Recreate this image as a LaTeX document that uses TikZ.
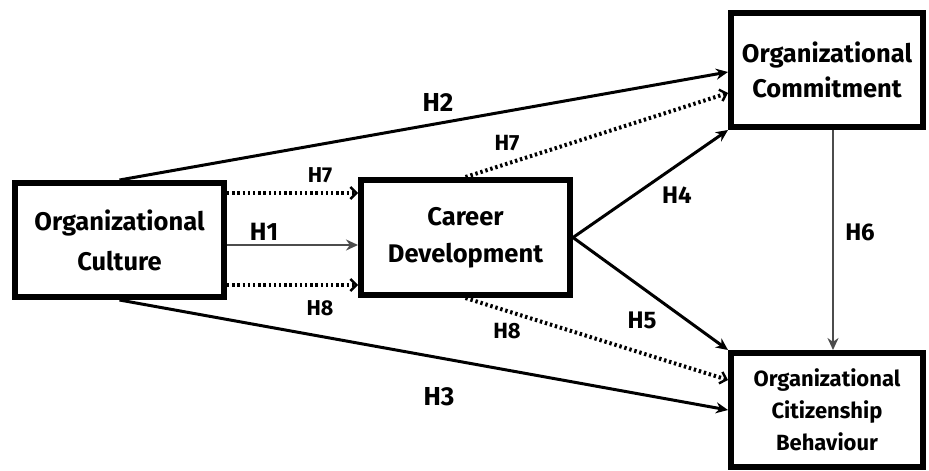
\documentclass[tikz,border=0pt]{standalone}
\usepackage{fontspec}
\setmainfont{Fira Sans}
\usetikzlibrary{arrows.meta}
\tikzset{
  box/.style={draw=black, line width=6pt, fill=white, align=center, inner sep=0pt, font=\bfseries\fontsize{25.5}{40}\selectfont},
  solidarrow/.style={line width=3pt, -{Stealth[length=12pt,width=11pt]}},
  grayarrow/.style={line width=2.6pt, draw=black!70, -{Stealth[length=12pt,width=11pt,fill=black]}},
  dotarrow/.style={line width=4pt, dash pattern=on 2.4pt off 2.8pt, -{Straight Barb[length=6pt,width=12pt,line width=2.4pt]}},
  hlab/.style={font=\bfseries\fontsize{24}{24}\selectfont, inner sep=1pt},
}
\begin{document}
\begin{tikzpicture}[x=1pt,y=-1pt]
\useasboundingbox (0,0) rectangle (929,471);
\node[box, minimum width=209pt, minimum height=114pt] (OC) at (119.5,240) {Organizational\\Culture};
\node[box, minimum width=209pt, minimum height=115pt, font=\bfseries\fontsize{25.5}{37}\selectfont] (CD) at (465.5,237.5) {Career\\Development};
\node[box, minimum width=192pt, minimum height=114pt, font=\bfseries\fontsize{25.5}{35}\selectfont] (OCm) at (827,70) {Organizational\\Commitment};
\node[box, minimum width=192pt, minimum height=114pt, font=\bfseries\fontsize{22}{32}\selectfont] (OCB) at (827,410) {Organizational\\Citizenship\\Behaviour};

\coordinate (l7) at ([yshift=47pt]OC.east);
\coordinate (l1) at ([yshift=-5pt]OC.east);
\coordinate (l8) at ([yshift=-45pt]OC.east);
\coordinate (t2) at ([yshift=-2pt]OCm.west);
\coordinate (t7) at ([yshift=-23pt]OCm.west);
\coordinate (b8) at ([yshift=30pt]OCB.west);

\draw[dotarrow] (l7) -- (l7 -| CD.west);
\draw[grayarrow] (l1) -- (l1 -| CD.west);
\draw[dotarrow] (l8) -- (l8 -| CD.west);

\draw[solidarrow] (OC.north) -- (t2);
\draw[solidarrow] (OC.south) -- (OCB.west);
\draw[dotarrow] (CD.north) -- (t7);
\draw[dotarrow] (CD.south) -- (b8);
\draw[solidarrow] (CD.east) -- (OCm.south west);
\draw[solidarrow] (CD.east) -- (OCB.north west);
\draw[grayarrow] ([xshift=6pt]OCm.south) -- ([xshift=6pt]OCB.north);

\node[hlab, font=\bfseries\fontsize{26}{26}\selectfont] (h2) at (438,102) {H2};
\node[hlab, font=\bfseries\fontsize{22}{22}\selectfont] (h7a) at (507,143) {H7};
\node[hlab, font=\bfseries\fontsize{21.5}{21.5}\selectfont] (h7b) at (320,175) {H7};
\node[hlab, font=\bfseries\fontsize{25}{25}\selectfont] (h1) at (264,232) {H1};
\node[hlab, font=\bfseries\fontsize{21.5}{21.5}\selectfont] (h8a) at (320,308) {H8};
\node[hlab, font=\bfseries\fontsize{22}{22}\selectfont] (h8b) at (507,331) {H8};
\node[hlab] (h4) at (677,195) {H4};
\node[hlab] (h6) at (860,232) {H6};
\node[hlab] (h5) at (642,320) {H5};
\node[hlab, font=\bfseries\fontsize{26}{26}\selectfont] (h3) at (439,397) {H3};
\end{tikzpicture}
\end{document}
